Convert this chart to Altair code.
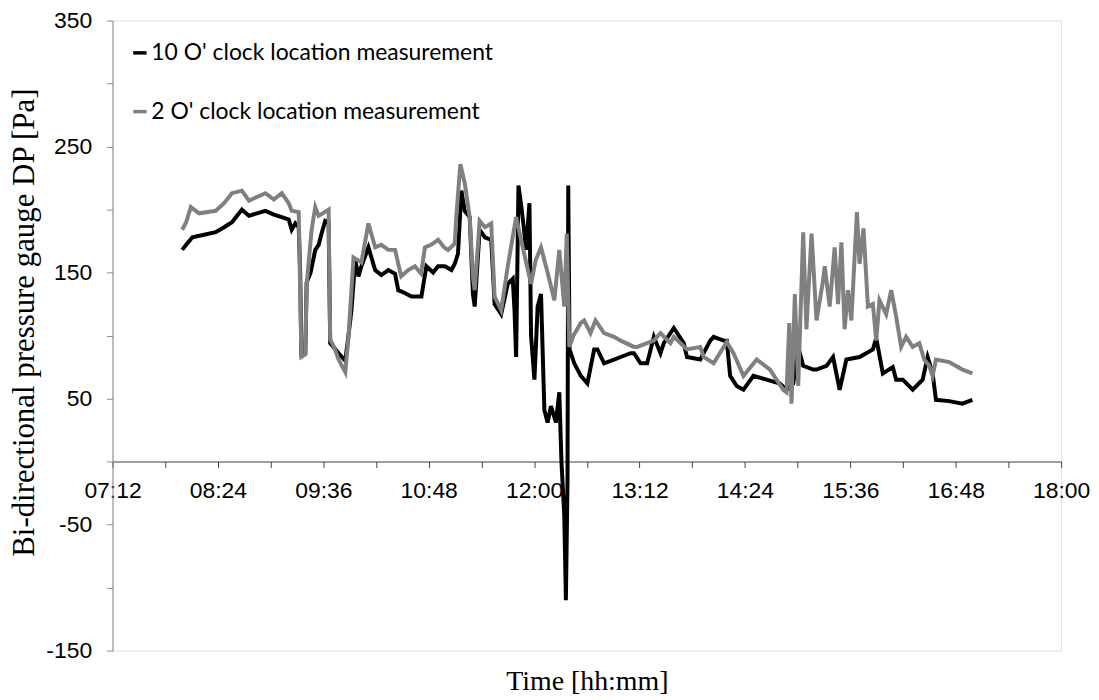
import altair as alt
import pandas as pd

SERIES = ["10 O' clock location measurement", "2 O' clock location measurement"]

# time in minutes after midnight, pressure in Pa
TIME_10 = [479.6, 482.3, 486.6, 494.6, 502.5, 508.2, 513.6, 520.4, 525.2, 530.6, 536.5, 542.2, 547.6, 552.4,
           554.4, 556.9, 559.2, 560.2, 561.0, 563.7, 564.6, 567.3, 570.5, 572.8, 574.8, 577.3, 579.6, 580.7,
           583.7, 586.4, 591.0, 593.2, 595.2, 597.8, 600.0, 602.0, 606.8, 611.4, 615.6, 620.4, 625.0, 627.2,
           631.3, 636.2, 643.0, 646.4, 651.0, 654.4, 659.0, 663.5, 665.8, 668.0, 670.3, 672.6, 676.0, 678.2,
           679.4, 682.8, 686.4, 690.7, 693.0, 697.5, 702.0, 705.4, 706.6, 707.7, 709.3, 711.5, 712.9, 714.5,
           716.8, 717.9, 720.2, 722.4, 724.7, 727.0, 729.2, 731.5, 734.9, 737.2, 738.7, 740.6, 741.7, 742.8,
           743.3, 744.2, 747.4, 751.9, 756.4, 761.0, 763.2, 767.8, 774.6, 779.1, 785.9, 788.2, 792.7, 797.2,
           801.8, 806.3, 808.6, 815.4, 822.2, 824.4, 833.5, 840.3, 842.6, 849.4, 851.6, 853.9, 858.4, 863.0,
           869.8, 878.8, 887.9, 892.4, 897.0, 900.4, 903.8, 910.6, 912.9, 919.7, 924.2, 928.7, 933.3, 942.3,
           951.4, 953.7, 958.2, 965.0, 967.3, 971.8, 978.6, 985.4, 988.8, 992.2, 994.5, 1003.5, 1012.6, 1019.4]
DP_10 = [168, 172, 178, 180, 182, 186, 190, 200, 195, 197, 199, 196, 194, 192,
         184, 189, 186, 150, 85, 86, 142, 150, 168, 172, 181, 191, 190, 94,
         90, 86, 80, 100, 120, 160, 147, 155, 170, 152, 148, 152, 149, 136,
         134, 131, 131, 155, 150, 155, 155, 152, 157, 165, 215, 199, 194, 133,
         123, 184, 178, 176, 125, 117, 141, 145, 120, 83, 219, 200, 186, 168,
         205, 100, 65, 123, 133, 41, 31, 44, 31, 55, -1, -43, -110, -16,
         219, 89, 78, 68, 62, 89, 89, 78, 81, 83, 86, 86, 78, 78,
         99, 86, 94, 106, 94, 83, 81, 96, 99, 96, 96, 68, 60, 57,
         68, 65, 62, 57, 62, 91, 76, 73, 73, 76, 83, 57, 81, 83,
         89, 98, 70, 75, 65, 65, 57, 65, 83, 70, 49, 48, 46, 49]

TIME_2 = [479.6, 482.3, 485.5, 491.2, 502.5, 508.2, 513.6, 520.4, 525.2, 530.6, 536.5, 542.2, 547.6, 552.4,
          554.4, 559.2, 561.0, 563.7, 564.6, 568.0, 570.5, 572.8, 576.9, 579.6, 580.7, 583.7, 586.4, 591.0,
          593.2, 596.6, 602.0, 606.8, 611.4, 615.6, 620.4, 625.0, 629.2, 634.0, 638.6, 642.8, 645.4, 649.6,
          654.4, 658.5, 661.2, 665.8, 666.8, 669.6, 672.6, 676.0, 678.2, 679.4, 682.8, 686.4, 690.7, 693.0,
          697.5, 702.0, 707.7, 712.2, 717.9, 721.1, 724.7, 729.2, 733.8, 737.2, 740.6, 742.3, 744.0, 746.9,
          751.9, 754.2, 758.5, 761.9, 767.8, 774.6, 779.1, 788.2, 790.4, 801.8, 806.3, 813.1, 815.4, 824.4,
          833.5, 835.8, 842.6, 851.6, 856.2, 863.0, 872.0, 881.1, 885.6, 890.2, 892.4, 894.3, 895.8, 898.1,
          900.4, 903.8, 906.0, 909.5, 912.9, 917.4, 918.5, 921.9, 925.3, 927.6, 929.9, 932.1, 934.4, 936.7,
          940.5, 942.3, 945.0, 948.0, 951.4, 953.7, 955.9, 960.5, 963.9, 967.3, 970.7, 974.1, 978.6, 983.1,
          986.5, 989.9, 992.2, 994.5, 1003.5, 1012.6, 1019.4]
DP_2 = [184, 190, 202, 197, 199, 205, 213, 215, 207, 210, 213, 208, 213, 205,
        199, 198, 83, 85, 140, 184, 202, 195, 198, 200, 97, 90, 81, 71,
        99, 162, 158, 189, 170, 172, 168, 168, 147, 152, 155, 149, 170, 172,
        176, 170, 168, 173, 194, 236, 221, 194, 147, 136, 191, 186, 189, 131,
        120, 155, 194, 170, 141, 160, 170, 150, 128, 168, 123, 181, 91, 100,
        110, 112, 102, 112, 102, 99, 96, 91, 91, 96, 102, 94, 99, 89,
        91, 83, 78, 95, 86, 68, 81, 73, 65, 57, 55, 110, 46, 133,
        60, 182, 105, 181, 112, 144, 155, 123, 170, 125, 174, 105, 136, 112,
        198, 157, 185, 123, 125, 96, 128, 117, 136, 115, 91, 99, 91, 94,
        81, 76, 68, 81, 79, 73, 70]

X_TICKS = list(range(432, 1081, 36))
Y_TICKS = list(range(-150, 351, 50))

df = pd.concat([
    pd.DataFrame({"t": TIME_10, "v": DP_10, "series": SERIES[0]}),
    pd.DataFrame({"t": TIME_2, "v": DP_2, "series": SERIES[1]}),
], ignore_index=True)

x_enc = alt.X(
    "t:Q",
    scale=alt.Scale(domain=[432, 1080], nice=False, zero=False),
    axis=alt.Axis(
        values=X_TICKS,
        labelExpr="datum.value % 72 == 0 ? format(floor(datum.value / 60), '02d') + ':' + format(datum.value % 60, '02d') : ''",
        offset=-190,
        title="Time [hh:mm]",
        titleFont="Liberation Serif",
        titleFontSize=28,
        titleFontWeight="normal",
        titleColor="black",
        titleY=229,
        titleBaseline="alphabetic",
        labelFont="Liberation Sans",
        labelFontSize=23,
        labelColor="black",
        labelPadding=12,
        labelFlush=False,
        labelOverlap=False,
        tickSize=6,
        tickColor="#404040",
        domainColor="#404040",
        grid=False,
    ),
)

y_enc = alt.Y(
    "v:Q",
    scale=alt.Scale(domain=[-150, 350], nice=False, zero=False),
    axis=alt.Axis(
        values=Y_TICKS,
        labelExpr="(datum.value + 150) % 100 == 0 ? '' + datum.value : ''",
        title="Bi-directional pressure gauge DP [Pa]",
        titleFont="Liberation Serif",
        titleFontSize=31,
        titleFontWeight="normal",
        titleColor="black",
        titleX=-79,
        titleY=303,
        titleBaseline="alphabetic",
        labelFont="Liberation Sans",
        labelFontSize=23,
        labelColor="black",
        labelPadding=15,
        labelOverlap=False,
        tickSize=6,
        tickColor="#8c8c8c",
        domainColor="#8c8c8c",
        grid=False,
    ),
)

color_enc = alt.Color(
    "series:N",
    scale=alt.Scale(domain=SERIES, range=["#000000", "#808080"]),
    legend=alt.Legend(
        title=None,
        orient="none",
        legendX=16,
        legendY=21,
        direction="vertical",
        symbolType="stroke",
        symbolSize=180,
        symbolStrokeWidth=3.5,
        labelFont="Lato",
        labelFontSize=23,
        labelColor="black",
        labelLimit=0,
        labelOffset=0,
        rowPadding=35,
        padding=0,
    ),
)

base = alt.Chart(df).encode(x=x_enc, y=y_enc, color=color_enc)
line_black = base.transform_filter(alt.datum.series == SERIES[0]).mark_line(strokeWidth=4)
line_gray = base.transform_filter(alt.datum.series == SERIES[1]).mark_line(strokeWidth=4)

chart = alt.layer(line_black, line_gray).properties(
    width=953,
    height=633,
    autosize=alt.AutoSizeParams(type="none"),
    padding={"left": 105, "top": 11, "right": 30, "bottom": 44},
).configure_view(
    stroke="#404040",
    strokeWidth=1.2,
).configure(background="white")

chart.save("out.html", embed_options={"renderer": "svg", "actions": False})
